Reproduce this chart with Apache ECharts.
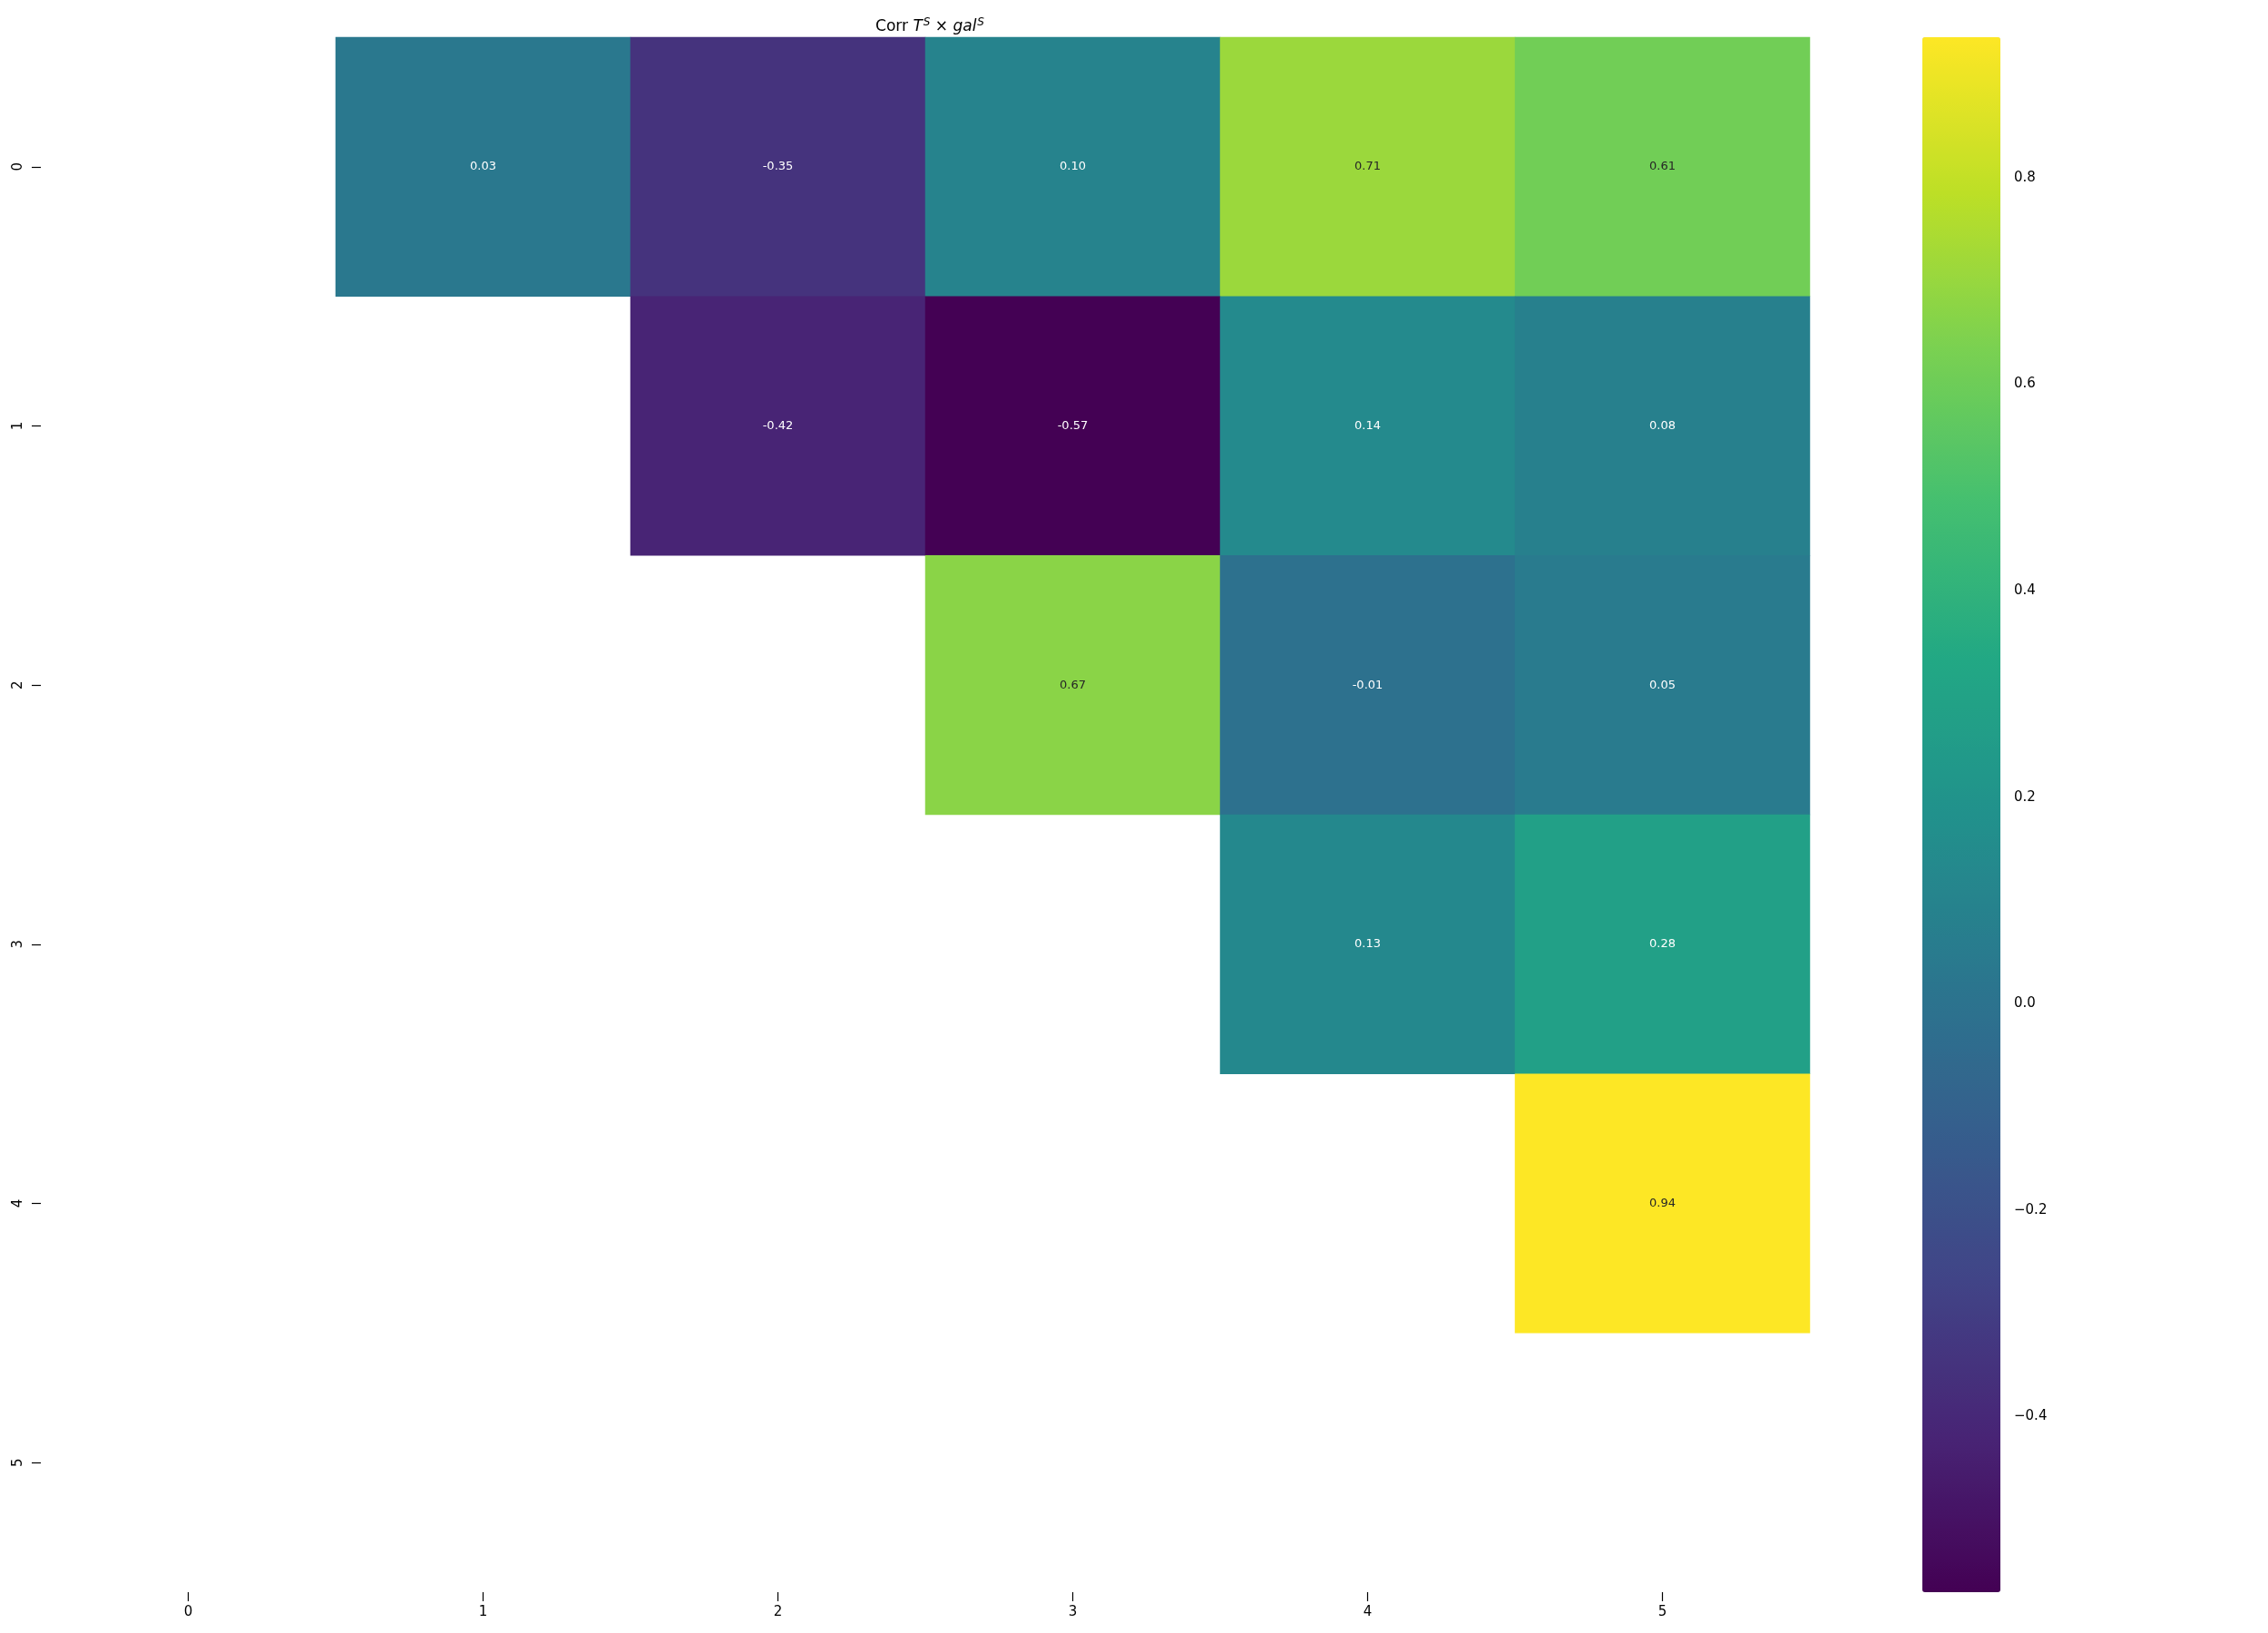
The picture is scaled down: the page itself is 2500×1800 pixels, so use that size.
<!DOCTYPE html>
<html>
<head>
<meta charset="utf-8">
<script src="https://cdn.jsdelivr.net/npm/echarts@6/dist/echarts.min.js"></script>
<style>
  html, body { margin: 0; padding: 0; background: #fff; }
  #chart { width: 2500px; height: 1800px; }
</style>
</head>
<body>
<div id="chart"></div>
<script>
// row / column labels of the correlation matrix
const rowLabels = ["0", "1", "2", "3", "4", "5"];
const colLabels = ["0", "1", "2", "3", "4", "5"];

// upper triangle only, null = masked
const row0 = [null, 0.03, -0.35, 0.10, 0.71, 0.61];
const row1 = [null, null, -0.42, -0.57, 0.14, 0.08];
const row2 = [null, null, null, 0.67, -0.01, 0.05];
const row3 = [null, null, null, null, 0.13, 0.28];
const row4 = [null, null, null, null, null, 0.94];
const row5 = [null, null, null, null, null, null];

// colour scale limits
const vMin = -0.57;
const vMax = 0.936;
const cbarTicks = [-0.4, -0.2, 0.0, 0.2, 0.4, 0.6, 0.8];

const viridis = ["#440154", "#482475", "#414487", "#355f8d", "#2a788e",
  "#21918c", "#22a884", "#44bf70", "#7ad151", "#bddf26", "#fde725"];

const rows = [row0, row1, row2, row3, row4, row5];
const cells = [];
rows.forEach((r, i) => {
  r.forEach((v, j) => {
    if (v === null) return;
    cells.push({
      value: [j, i, v],
      label: { color: v > 0.45 ? "#262626" : "#ffffff" }
    });
  });
});

const font = "DejaVu Sans";
const chart = echarts.init(document.getElementById("chart"));

const option = {
  animation: false,
  backgroundColor: "#ffffff",
  title: {
    left: 1020,
    textAlign: "center",
    top: 14,
    text: "{n|Corr }{i|T}{s|S}{n| × }{i|gal}{s|S}",
    textStyle: {
      fontWeight: "normal",
      rich: {
        n: { fontFamily: font, fontSize: 17, fontWeight: "normal", color: "#000" },
        i: { fontFamily: font, fontSize: 17, fontWeight: "normal", fontStyle: "italic", color: "#000" },
        s: { fontFamily: font, fontSize: 12, fontWeight: "normal", fontStyle: "italic", color: "#000", verticalAlign: "top", padding: [0, 0, 10, 1] }
      }
    }
  },
  grid: [
    { left: 45, top: 41, width: 1950, height: 1714 },
    { left: 2119, top: 41, width: 86, height: 1714 }
  ],
  xAxis: [
    {
      type: "category",
      gridIndex: 0,
      data: colLabels,
      splitArea: { show: false },
      axisLine: { show: false },
      axisTick: { show: true, alignWithLabel: true, interval: 0, length: 10, lineStyle: { color: "#000", width: 1.2 } },
      axisLabel: { fontFamily: font, fontSize: 15, color: "#000", margin: 15 }
    },
    { type: "value", gridIndex: 1, show: false, min: 0, max: 1 }
  ],
  yAxis: [
    {
      type: "category",
      gridIndex: 0,
      inverse: true,
      data: rowLabels,
      splitArea: { show: false },
      axisLine: { show: false },
      axisTick: { show: true, alignWithLabel: true, interval: 0, length: 10, lineStyle: { color: "#000", width: 1.2 } },
      axisLabel: { fontFamily: font, fontSize: 15, color: "#000", rotate: 90, margin: 17 }
    },
    {
      type: "value",
      gridIndex: 1,
      position: "right",
      min: vMin,
      max: vMax,
      splitLine: { show: false },
      axisLine: { show: false },
      axisTick: { show: true, length: 10, customValues: cbarTicks, lineStyle: { color: "#000", width: 1.2 } },
      axisLabel: {
        fontFamily: font, fontSize: 15, color: "#000", margin: 15,
        customValues: cbarTicks,
        formatter: v => v.toFixed(1).replace("-", "\u2212")
      }
    }
  ],
  visualMap: {
    type: "continuous",
    min: vMin,
    max: vMax,
    seriesIndex: 0,
    orient: "vertical",
    left: 2119,
    top: 41,
    padding: 0,
    itemWidth: 86,
    itemHeight: 1714,
    calculable: false,
    hoverLink: false,
    text: null,
    showLabel: false,
    inRange: { color: viridis }
  },
  series: [
    {
      type: "heatmap",
      xAxisIndex: 0,
      yAxisIndex: 0,
      data: cells,
      label: {
        show: true,
        fontFamily: font,
        fontSize: 13,
        formatter: p => p.value[2].toFixed(2)
      },
      emphasis: { disabled: true }
    }
  ]
};

chart.setOption(option);
</script>
</body>
</html>
